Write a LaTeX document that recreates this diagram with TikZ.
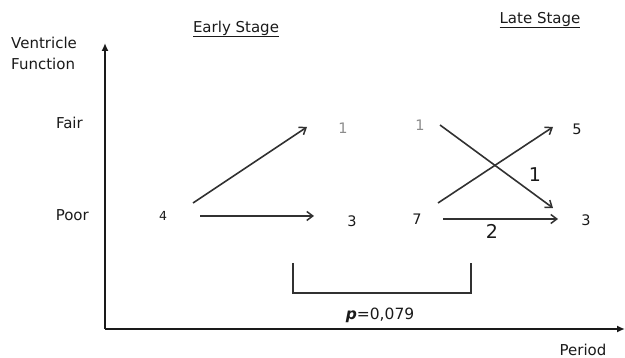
\documentclass[tikz,border=0pt]{standalone}
\usepackage{fontspec}
\setmainfont{DejaVu Sans}
\usetikzlibrary{arrows.meta}
\definecolor{ink}{HTML}{1A1A1A}
\definecolor{lite}{HTML}{8C8C8C}
\tikzset{
  axis/.style={draw=ink, line width=2pt, -{Latex[length=8pt,width=7pt]}},
  flow/.style={draw=ink!90, line width=1.6pt, -{Straight Barb[length=6pt,width=9pt,line width=1.5pt]}},
  lbl/.style={text=ink, font=\fontsize{15}{17}\selectfont, inner sep=0pt},
  num/.style={text=ink, font=\fontsize{14.5}{16}\selectfont, inner sep=0pt},
  faint/.style={text=lite, font=\fontsize{14.5}{16}\selectfont, inner sep=0pt},
  big/.style={text=ink, font=\fontsize{19}{21}\selectfont, inner sep=0pt},
  head/.style={text=ink, font=\fontsize{15}{17}\selectfont, inner sep=0pt},
  brk/.style={draw=ink!90, line width=1.5pt}
}
\newcommand{\ulx}[1]{\underline{#1}}
\begin{document}
\begin{tikzpicture}[x=1pt,y=-1pt]
\useasboundingbox (0,0) rectangle (625,358);
% axes
\coordinate (org) at (105,329);
\coordinate (ytop) at (105,43);
\coordinate (xend) at (625,329);
\draw[axis] (org) -- (ytop);
\draw[axis] (org) -- (xend);
% axis labels
\node[lbl, anchor=west, align=left] (vf) at (11,53) {Ventricle\\[4pt]Function};
\node[lbl, anchor=east] (fair) at (83,123) {Fair};
\node[lbl, anchor=east] (poor) at (89,215) {Poor};
\node[lbl] (period) at (583,350) {Period};
% headings
\node[head] (early) at (236,29) {\ulx{Early Stage}};
\node[head] (late) at (540,20) {\ulx{Late Stage}};
% numbers
\node[num, font=\fontsize{12.5}{14}\selectfont] (n4) at (163,216) {4};
\node[faint] (e1) at (343,128) {1};
\node[num] (e3) at (352,221) {3};
\node[faint] (l1) at (420,125) {1};
\node[num] (l7) at (417,219) {7};
\node[num] (l5) at (577,129) {5};
\node[num] (l3) at (586,220) {3};
% arrow end points
\coordinate (a1s) at (193,203); \coordinate (a1e) at (307,127);
\coordinate (a2s) at (200,216); \coordinate (a2e) at (314,216);
\coordinate (a3s) at (440,125); \coordinate (a3e) at (553,208);
\coordinate (a4s) at (438,203); \coordinate (a4e) at (553,127);
\coordinate (a5s) at (443,219); \coordinate (a5e) at (558,219);
\draw[flow] (a1s) -- (a1e);
\draw[flow] (a2s) -- (a2e);
\draw[flow] (a3s) -- (a3e);
\draw[flow] (a4s) -- (a4e);
\draw[flow] (a5s) -- (a5e);
\node[big] (c1) at (535,175) {1};
\node[big] (c2) at (492,231) {2};
% bracket
\coordinate (b1) at (293,263); \coordinate (b2) at (293,293);
\coordinate (b3) at (471,293); \coordinate (b4) at (471,263);
\draw[brk] (b1) -- (b2) -- (b3) -- (b4);
\node[text=ink, font=\fontsize{15.5}{17}\selectfont, inner sep=0pt] (pv) at (380,315) {\textbf{\textit{p}}=0,079};
\end{tikzpicture}
\end{document}
